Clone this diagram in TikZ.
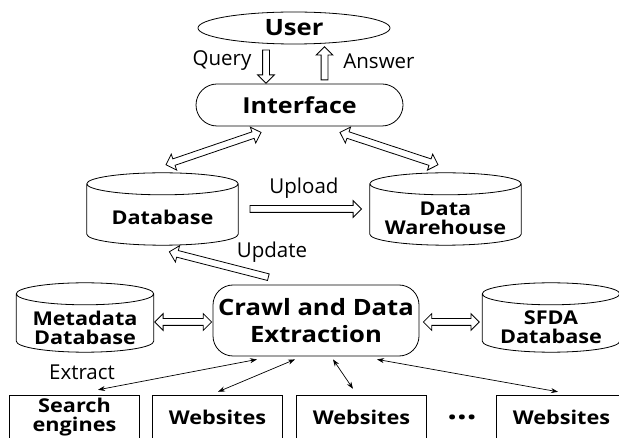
\documentclass[tikz,border=0pt]{standalone}
\usepackage{fontspec}
\setmainfont{Open Sans}
\newfontfamily\widebold{Open Sans}[FakeStretch=1.14]
\usetikzlibrary{shapes.geometric,shapes.arrows,shapes.misc,arrows.meta,calc}
\newcommand\hollowarrow[3]{\path let \p1=($(#3)-(#2)$), \n1={atan2(\y1,\x1)}, \n2={veclen(\x1,\y1)} in node[#1, rotate=\n1, minimum height=\n2] at ($(#2)!0.5!(#3)$) {};}
\newcommand\cylframe[2]{\draw[frame] let \p1=(#1.north west), \p2=(#1.south east), \n1={(\x2-\x1)/2} in
  (\x1,\y1-#2) arc[start angle=180, end angle=-180, x radius=\n1, y radius=#2]
  (\x1,\y1-#2) -- (\x1,\y2+#2) arc[start angle=180, end angle=360, x radius=\n1, y radius=#2] -- (\x2,\y1-#2);}
\newcommand\openbox[1]{\draw[frame] (#1.south west) -- (#1.north west) -- (#1.north east) -- (#1.south east);}
\begin{document}
\begin{tikzpicture}[x=1pt,y=-1pt,
  frame/.style={draw=black, line width=0.8pt},
  lab/.style={font=\fontsize{20.5}{24}\selectfont, inner sep=0pt},
  bold/.style={font=\widebold\bfseries\fontsize{19}{19}\selectfont, align=center, inner sep=0pt},
  cyl/.style={inner sep=0pt},
  box/.style={minimum width=129pt, minimum height=42pt, inner sep=0pt, font=\widebold\bfseries\fontsize{19}{19.5}\selectfont, align=center},
  harr/.style={single arrow, draw=black, line width=0.8pt, fill=white, inner xsep=0pt, inner ysep=3pt, single arrow head extend=5pt, single arrow tip angle=90},
  hdarr/.style={double arrow, draw=black, line width=0.8pt, fill=white, inner xsep=0pt, inner ysep=3pt, double arrow head extend=5pt, double arrow tip angle=90},
  thin/.style={{Stealth[length=7pt,width=5pt]}-{Stealth[length=7pt,width=5pt]}, line width=0.7pt},
]
\useasboundingbox (0,0) rectangle (619,438);
\clip (0,0) rectangle (619,438);

% main nodes
\node[ellipse, frame, minimum width=192pt, minimum height=32pt, inner sep=0pt, font=\widebold\bfseries\fontsize{22.5}{24}\selectfont] (user) at (294,28) {User};
\node[rounded rectangle, frame, minimum width=207pt, minimum height=42pt, inner sep=0pt, font=\widebold\bfseries\fontsize{22}{24}\selectfont] (iface) at (299.5,105) {Interface};
\node[cyl, minimum width=151pt, minimum height=72pt, label={[bold, yshift=-8pt]center:Database}] (db) at (162.5,209) {};
\node[cyl, minimum width=151pt, minimum height=72pt, label={[bold, yshift=-9pt]center:{Data\\Warehouse}}] (wh) at (445.5,209) {};
\node[rectangle, rounded corners=20pt, frame, minimum width=206pt, minimum height=71pt, inner sep=0pt, align=center, font=\widebold\bfseries\fontsize{22.5}{27}\selectfont] (crawl) at (316,320.5) {\raisebox{0pt}[\height][0pt]{Crawl and Data}\\Extraction};
\node[cyl, minimum width=137pt, minimum height=69pt, label={[bold, yshift=-10pt]center:{Metadata\\Database}}] (md) at (85,317.5) {};
\node[cyl, minimum width=137pt, minimum height=69pt, label={[bold, yshift=-10pt]center:{SFDA\\Database}}] (sfda) at (551,317.5) {};
\cylframe{db}{11pt}
\cylframe{wh}{11pt}
\cylframe{md}{11pt}
\cylframe{sfda}{11pt}

% bottom boxes
\node[box] (b1) at (74.5,417) {Search\\engines};
\node[box] (b2) at (217.5,417) {Websites};
\node[box] (b3) at (361.5,417) {Websites};
\node[box] (b4) at (561.5,417) {Websites};
\node[font=\widebold\bfseries\fontsize{30}{30}\selectfont, inner sep=0pt, anchor=base] (dots) at (462,419.5) {…};
\openbox{b1}
\openbox{b2}
\openbox{b3}
\openbox{b4}

% labels
\node[lab] (query) at (222,61) {Query};
\node[lab] (answer) at (379,61) {Answer};
\node[lab] (upload) at (304,188) {Upload};
\node[lab] (update) at (272,252) {Update};
\node[lab] (extract) at (82,372) {Extract};

% arrow end points
\coordinate (q1) at ([xshift=-28pt,yshift=-4pt]user.south);
\coordinate (q2) at ([xshift=-33.5pt,yshift=2pt]iface.north);
\coordinate (a1) at ([xshift=25pt,yshift=2pt]iface.north);
\coordinate (a2) at ([xshift=30.5pt,yshift=-4pt]user.south);
\coordinate (id1) at ([xshift=-38.5pt,yshift=-6pt]iface.south);
\coordinate (id2) at ([xshift=3.5pt,yshift=8pt]db.north);
\coordinate (iw1) at ([xshift=40.5pt,yshift=-6pt]iface.south);
\coordinate (iw2) at ([xshift=-7.5pt,yshift=8pt]wh.north);
\coordinate (u1) at ([xshift=10pt]db.east);
\coordinate (u2) at ([xshift=-10pt]wh.west);
\coordinate (p1) at ([xshift=-46pt,yshift=7pt]crawl.north);
\coordinate (p2) at ([xshift=8.5pt,yshift=-7pt]db.south);
\coordinate (m1) at ([xshift=1pt,yshift=-4.5pt]md.east);
\coordinate (m2) at ([xshift=-1pt,yshift=-1.5pt]crawl.west);
\coordinate (s1) at ([xshift=4pt,yshift=-1.5pt]crawl.east);
\coordinate (s2) at ([xshift=-3pt,yshift=-4.5pt]sfda.west);

\hollowarrow{harr}{q1}{q2}
\hollowarrow{harr}{a1}{a2}
\hollowarrow{hdarr}{id1}{id2}
\hollowarrow{hdarr}{iw1}{iw2}
\hollowarrow{harr}{u1}{u2}
\hollowarrow{harr}{p1}{p2}
\hollowarrow{hdarr}{m1}{m2}
\hollowarrow{hdarr}{s1}{s2}

% thin arrows
\draw[thin] ([xshift=-59pt,yshift=-3pt]crawl.south) -- ([xshift=23.5pt,yshift=6pt]b1.north);
\draw[thin] ([xshift=-21pt,yshift=-3pt]crawl.south) -- ([xshift=0.5pt,yshift=4pt]b2.north);
\draw[thin] ([xshift=17pt,yshift=-3pt]crawl.south) -- ([xshift=-8.5pt,yshift=7pt]b3.north);
\draw[thin] ([xshift=61pt,yshift=-3pt]crawl.south) -- ([xshift=-3.5pt,yshift=4pt]b4.north);
\end{tikzpicture}
\end{document}
